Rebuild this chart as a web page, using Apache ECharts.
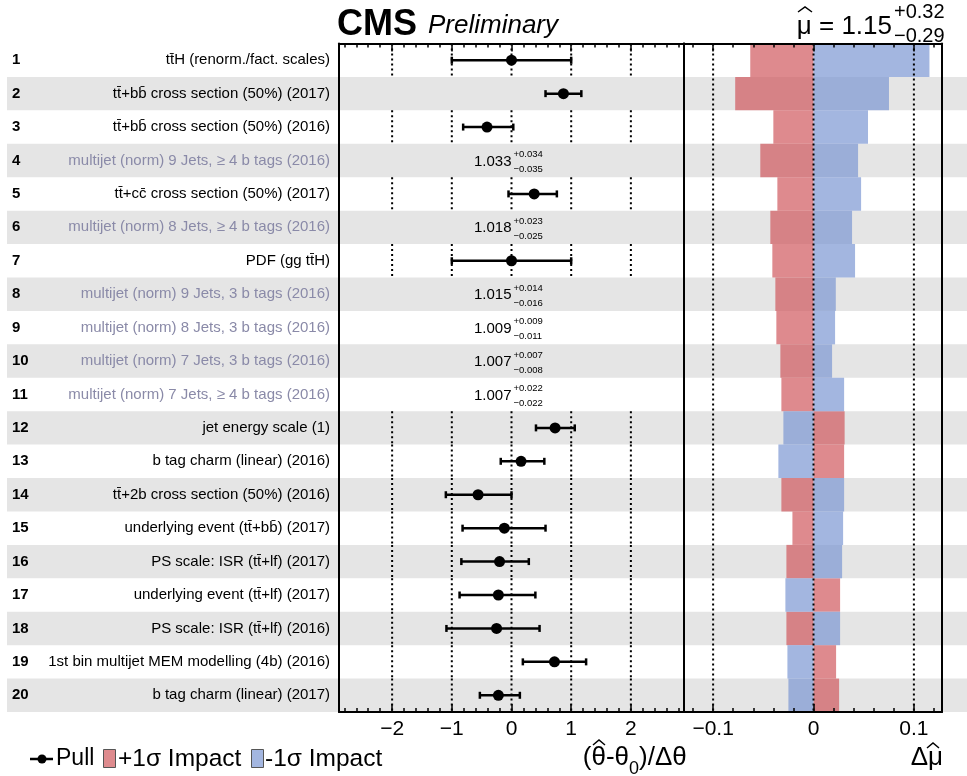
<!DOCTYPE html>
<html><head><meta charset="utf-8">
<script src="https://cdn.jsdelivr.net/npm/echarts@6/dist/echarts.min.js"></script>
<style>html,body{margin:0;padding:0;background:#fff}#c{width:967px;height:776px}</style>
</head><body><div id="c"></div>
<script>
// ---------------- data ----------------
const rowNumbers = [1,2,3,4,5,6,7,8,9,10,11,12,13,14,15,16,17,18,19,20];
const paramNames = [
  'tt\u0304H (renorm./fact. scales)',
  'tt\u0304+bb\u0304 cross section (50%) (2017)',
  'tt\u0304+bb\u0304 cross section (50%) (2016)',
  'multijet (norm) 9 Jets, \u2265 4 b tags (2016)',
  'tt\u0304+cc\u0304 cross section (50%) (2017)',
  'multijet (norm) 8 Jets, \u2265 4 b tags (2016)',
  'PDF (gg tt\u0304H)',
  'multijet (norm) 9 Jets, 3 b tags (2016)',
  'multijet (norm) 8 Jets, 3 b tags (2016)',
  'multijet (norm) 7 Jets, 3 b tags (2016)',
  'multijet (norm) 7 Jets, \u2265 4 b tags (2016)',
  'jet energy scale (1)',
  'b tag charm (linear) (2016)',
  'tt\u0304+2b cross section (50%) (2016)',
  'underlying event (tt\u0304+bb\u0304) (2017)',
  'PS scale: ISR (tt\u0304+lf) (2017)',
  'underlying event (tt\u0304+lf) (2017)',
  'PS scale: ISR (tt\u0304+lf) (2016)',
  '1st bin multijet MEM modelling (4b) (2016)',
  'b tag charm (linear) (2017)'
];
const paramIsRate = [false,false,false,true,false,true,false,true,true,true,true,false,false,false,false,false,false,false,false,false];
// pulls (theta-hat - theta0)/dtheta, with error bar ends
const pullValues = [0, 0.87, -0.41, null, 0.38, null, 0, null, null, null, null, 0.73, 0.16, -0.56, -0.12, -0.20, -0.22, -0.25, 0.72, -0.22];
const pullLow    = [-1, 0.57, -0.81, null, -0.05, null, -1, null, null, null, null, 0.41, -0.18, -1.10, -0.82, -0.84, -0.87, -1.09, 0.19, -0.53];
const pullHigh   = [1, 1.17, 0.03, null, 0.76, null, 1, null, null, null, null, 1.06, 0.55, 0.00, 0.57, 0.29, 0.40, 0.47, 1.25, 0.14];
// rate parameters shown as text
const rateValue = [null,null,null,'1.033',null,'1.018',null,'1.015','1.009','1.007','1.007',null,null,null,null,null,null,null,null,null];
const rateUp    = [null,null,null,'+0.034',null,'+0.023',null,'+0.014','+0.009','+0.007','+0.022',null,null,null,null,null,null,null,null,null];
const rateDown  = [null,null,null,'\u22120.035',null,'\u22120.025',null,'\u22120.016','\u22120.011','\u22120.008','\u22120.022',null,null,null,null,null,null,null,null,null];
// impacts on mu-hat
const impactPlus  = [-0.063, -0.078, -0.040, -0.053, -0.036, -0.043, -0.041, -0.038, -0.037, -0.033, -0.032, 0.031, 0.0305, -0.032, -0.021, -0.027, 0.0265, -0.027, 0.0225, 0.0255];
const impactMinus = [0.1155, 0.0752, 0.0543, 0.0444, 0.0474, 0.0384, 0.0414, 0.0222, 0.0215, 0.0185, 0.0305, -0.030, -0.035, 0.0305, 0.0295, 0.0285, -0.028, 0.0265, -0.026, -0.025];
// axes
const pullTickLabels = [-2, -1, 0, 1, 2];
const impactTickLabels = [-0.1, 0, 0.1];
const pullMinorTicks = [-2.8,-2.6,-2.4,-2.2,-2,-1.8,-1.6,-1.4,-1.2,-1,-0.8,-0.6,-0.4,-0.2,0,0.2,0.4,0.6,0.8,1,1.2,1.4,1.6,1.8,2,2.2,2.4,2.6,2.8];
const impactMinorTicks = [-0.12,-0.1,-0.08,-0.06,-0.04,-0.02,0,0.02,0.04,0.06,0.08,0.1,0.12];
const pullDottedRows = [1,3,5,7,12,13,14,15,16,17,18,19,20];
const headerTitle = 'CMS';
const headerSub = 'Preliminary';
const muText = '\u03bc = 1.15';
const muUp = '+0.32';
const muDown = '\u22120.29';

// ---------------- chart ----------------
const FONT = '"Liberation Sans", Arial, Helvetica, sans-serif';
const cats = rowNumbers.map(String);
const PULL_MIN = -2.89, PULL_MAX = 2.89;
const IMP_MIN = -0.129, IMP_MAX = 0.128;
const RED = 'rgba(208,89,94,0.7)';
const BLUE = 'rgba(124,151,211,0.7)';
const GRAY = '#e5e5e5';
const fmtMinus = v => (v < 0 ? '\u2212' : '') + Math.abs(v);

const chart = echarts.init(document.getElementById('c'), null, {renderer: 'canvas'});

function xAx(grid, pos, min, max, ticks, len, line, labels) {
  return {
    type: 'value', gridIndex: grid, position: pos, min: min, max: max, z: 10,
    splitLine: {show: false},
    axisLine: {show: line, onZero: false, lineStyle: {color: '#000', width: 2}},
    axisTick: {show: true, inside: true, length: len, customValues: ticks, lineStyle: {color: '#000', width: 1.5}},
    axisLabel: labels ? {show: true, customValues: labels, formatter: fmtMinus, fontSize: 21, color: '#000', margin: 7, fontFamily: FONT}
                      : {show: false}
  };
}
function yAx(grid, pos, line, label) {
  return {
    type: 'category', gridIndex: grid, position: pos, data: cats, inverse: true, z: 10,
    axisLine: {show: line, onZero: false, lineStyle: {color: '#000', width: 2}},
    axisTick: {show: false}, splitLine: {show: false},
    axisLabel: label || {show: false}
  };
}
function hat(cx, cy, w) {
  return {type: 'polyline', shape: {points: [[cx - w / 2, cy + 3], [cx, cy - 2], [cx + w / 2, cy + 3]]},
          style: {stroke: '#000', lineWidth: 1.5, fill: null}};
}

const option = {
  animation: false,
  backgroundColor: '#fff',
  textStyle: {fontFamily: FONT},
  grid: [
    {left: 339, right: 967 - 684, top: 43.5, bottom: 776 - 712},
    {left: 684, right: 967 - 942, top: 43.5, bottom: 776 - 712}
  ],
  xAxis: [
    xAx(0, 'bottom', PULL_MIN, PULL_MAX, pullMinorTicks, 4, true, pullTickLabels),
    xAx(0, 'bottom', PULL_MIN, PULL_MAX, pullTickLabels, 8, false, null),
    xAx(0, 'top', PULL_MIN, PULL_MAX, pullMinorTicks, 4, true, null),
    xAx(0, 'top', PULL_MIN, PULL_MAX, pullTickLabels, 8, false, null),
    xAx(1, 'bottom', IMP_MIN, IMP_MAX, impactMinorTicks, 4, true, impactTickLabels),
    xAx(1, 'bottom', IMP_MIN, IMP_MAX, impactTickLabels, 8, false, null),
    xAx(1, 'top', IMP_MIN, IMP_MAX, impactMinorTicks, 4, true, null),
    xAx(1, 'top', IMP_MIN, IMP_MAX, impactTickLabels, 8, false, null)
  ],
  yAxis: [
    yAx(0, 'left', true, {show: true, interval: 0, margin: 9, fontSize: 15, fontFamily: FONT,
      formatter: (v, i) => paramNames[i],
      color: (v, i) => paramIsRate[i] ? '#8a8aa8' : '#000'}),
    yAx(0, 'left', false, {show: true, interval: 0, margin: 327, align: 'left', fontSize: 15, fontWeight: 'bold', color: '#000', fontFamily: FONT}),
    yAx(0, 'right', true, null),
    yAx(1, 'left', true, null),
    yAx(1, 'right', true, null)
  ],
  series: [
    { // alternating gray row bands
      type: 'custom', xAxisIndex: 0, yAxisIndex: 0, z: 1, silent: true, clip: false,
      data: rowNumbers.filter(r => r % 2 === 0).map(r => [0, r - 1]),
      encode: {x: 0, y: 1},
      renderItem: (params, api) => {
        const c = api.coord([0, api.value(1)]);
        const h = api.size([0, 1])[1];
        return {type: 'rect', shape: {x: 7, y: c[1] - h / 2, width: api.getWidth() - 7, height: h},
                style: {fill: GRAY}};
      }
    },
    { // dotted guide lines in the pull panel
      type: 'custom', xAxisIndex: 0, yAxisIndex: 0, z: 2, silent: true,
      data: pullDottedRows.map(r => [0, r - 1]),
      encode: {x: 0, y: 1},
      renderItem: (params, api) => {
        const r = api.value(1);
        const h = api.size([0, 1])[1];
        const children = pullTickLabels.map(t => {
          const c = api.coord([t, r]);
          return {type: 'line', shape: {x1: c[0], y1: c[1] - h / 2, x2: c[0], y2: c[1] + h / 2},
                  style: {stroke: '#000', lineWidth: 2, lineDash: [2, 3]}};
        });
        return {type: 'group', children: children};
      }
    },
    { // +1 sigma impact
      name: '+1\u03c3 Impact', type: 'bar', xAxisIndex: 4, yAxisIndex: 3, z: 3,
      data: impactPlus, barWidth: '100%', barGap: '-100%',
      itemStyle: {color: RED}
    },
    { // -1 sigma impact
      name: '-1\u03c3 Impact', type: 'bar', xAxisIndex: 4, yAxisIndex: 3, z: 3,
      data: impactMinus, barWidth: '100%', barGap: '-100%',
      itemStyle: {color: BLUE}
    },
    { // dotted guide lines in the impact panel
      type: 'custom', xAxisIndex: 4, yAxisIndex: 3, z: 4, silent: true,
      data: impactTickLabels.map(t => [t, 0]),
      encode: {x: 0, y: 1},
      renderItem: (params, api) => {
        const c = api.coord([api.value(0), 0]);
        const cs = params.coordSys;
        return {type: 'line', shape: {x1: c[0], y1: cs.y, x2: c[0], y2: cs.y + cs.height},
                style: {stroke: '#000', lineWidth: 2, lineDash: [2, 3]}};
      }
    },
    { // pull error bars
      type: 'custom', xAxisIndex: 0, yAxisIndex: 0, z: 5, silent: true,
      data: rowNumbers.map((r, i) => pullValues[i] === null ? null : [pullLow[i], pullHigh[i], i]).filter(d => d),
      encode: {x: [0, 1], y: 2},
      renderItem: (params, api) => {
        const r = api.value(2);
        const a = api.coord([api.value(0), r]);
        const b = api.coord([api.value(1), r]);
        const st = {stroke: '#000', lineWidth: 2.5};
        return {type: 'group', children: [
          {type: 'line', shape: {x1: a[0], y1: a[1], x2: b[0], y2: b[1]}, style: st},
          {type: 'line', shape: {x1: a[0], y1: a[1] - 3.5, x2: a[0], y2: a[1] + 3.5}, style: st},
          {type: 'line', shape: {x1: b[0], y1: b[1] - 3.5, x2: b[0], y2: b[1] + 3.5}, style: st}
        ]};
      }
    },
    { // pull points
      name: 'Pull', type: 'scatter', xAxisIndex: 0, yAxisIndex: 0, z: 6,
      symbol: 'circle', symbolSize: 11, itemStyle: {color: '#000', opacity: 1},
      data: rowNumbers.map((r, i) => pullValues[i] === null ? null : [pullValues[i], i]).filter(d => d)
    },
    { // rate parameter values as text
      type: 'custom', xAxisIndex: 0, yAxisIndex: 0, z: 6, silent: true,
      data: rowNumbers.map((r, i) => rateValue[i] === null ? null : [0, i]).filter(d => d),
      encode: {x: 0, y: 1},
      renderItem: (params, api) => {
        const i = api.value(1);
        const c = api.coord([0, i]);
        return {type: 'group', children: [
          {type: 'text', x: c[0], y: c[1] + 1, style: {text: rateValue[i], fill: '#000', font: '15px ' + FONT, align: 'right', verticalAlign: 'middle'}},
          {type: 'text', x: c[0] + 2, y: c[1] - 6, style: {text: rateUp[i], fill: '#000', font: '9.5px ' + FONT, align: 'left', verticalAlign: 'middle'}},
          {type: 'text', x: c[0] + 2, y: c[1] + 9, style: {text: rateDown[i], fill: '#000', font: '9.5px ' + FONT, align: 'left', verticalAlign: 'middle'}}
        ]};
      }
    }
  ],
  graphic: [
    {type: 'text', x: 337, y: 25, style: {text: headerTitle, fill: '#000', font: 'bold 36px ' + FONT, align: 'left', verticalAlign: 'middle'}},
    {type: 'text', x: 428, y: 26, style: {text: headerSub, fill: '#000', font: 'italic 26px ' + FONT, align: 'left', verticalAlign: 'middle'}},
    {type: 'text', x: 892, y: 27, style: {text: muText, fill: '#000', font: '26px ' + FONT, align: 'right', verticalAlign: 'middle'}},
    hat(805, 9, 14),
    {type: 'text', x: 894, y: 12, style: {text: muUp, fill: '#000', font: '20px ' + FONT, align: 'left', verticalAlign: 'middle'}},
    {type: 'text', x: 894, y: 36, style: {text: muDown, fill: '#000', font: '20px ' + FONT, align: 'left', verticalAlign: 'middle'}},
    // axis titles
    {type: 'text', x: 629, y: 758, style: {text: '(\u03b8-\u03b8', fill: '#000', font: '26px ' + FONT, align: 'right', verticalAlign: 'middle'}},
    hat(599, 742, 12),
    {type: 'text', x: 629, y: 769, style: {text: '0', fill: '#000', font: '18px ' + FONT, align: 'left', verticalAlign: 'middle'}},
    {type: 'text', x: 639, y: 758, style: {text: ')/\u0394\u03b8', fill: '#000', font: '26px ' + FONT, align: 'left', verticalAlign: 'middle'}},
    {type: 'text', x: 943, y: 758, style: {text: '\u0394\u03bc', fill: '#000', font: '26px ' + FONT, align: 'right', verticalAlign: 'middle'}},
    hat(933, 745, 12),
    // legend
    {type: 'line', shape: {x1: 30, y1: 759, x2: 53, y2: 759}, style: {stroke: '#000', lineWidth: 2.5}},
    {type: 'circle', shape: {cx: 42, cy: 759, r: 4.5}, style: {fill: '#000'}},
    {type: 'text', x: 56, y: 759, style: {text: 'Pull', fill: '#000', font: '23px ' + FONT, align: 'left', verticalAlign: 'middle'}},
    {type: 'rect', shape: {x: 103.5, y: 749.5, width: 12, height: 18}, style: {fill: 'rgb(222,139,142)', stroke: '#555', lineWidth: 1}},
    {type: 'text', x: 118, y: 759, style: {text: '+1\u03c3 Impact', fill: '#000', font: '24.5px ' + FONT, align: 'left', verticalAlign: 'middle'}},
    {type: 'rect', shape: {x: 251.5, y: 749.5, width: 12, height: 18}, style: {fill: 'rgb(163,182,224)', stroke: '#555', lineWidth: 1}},
    {type: 'text', x: 265, y: 759, style: {text: '-1\u03c3 Impact', fill: '#000', font: '24.5px ' + FONT, align: 'left', verticalAlign: 'middle'}}
  ]
};
chart.setOption(option);
</script>
</body></html>
